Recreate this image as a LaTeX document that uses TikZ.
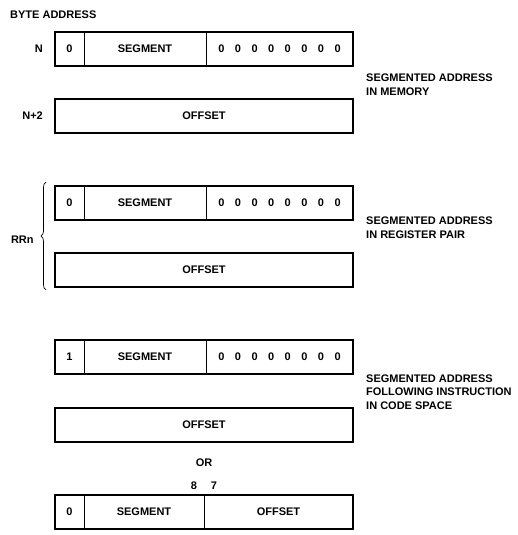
\documentclass[tikz,border=0pt]{standalone}
\usepackage{fontspec}
\setmainfont{Liberation Sans}
\usetikzlibrary{positioning,decorations.pathreplacing}
\newcommand{\zerobits}{0\hspace{10.5pt}0\hspace{10.5pt}0\hspace{10.5pt}0\hspace{10.5pt}0\hspace{10.5pt}0\hspace{10.5pt}0\hspace{10.5pt}0}
\tikzset{
  field/.style={draw, line width=0.7pt, minimum height=34pt, inner sep=0pt, outer sep=0pt},
  frame/.style={line width=1.6pt},
  lbl/.style={inner sep=0pt},
  note/.style={inner sep=0pt, anchor=west, align=left},
  regbrace/.style={decorate, decoration={brace, amplitude=5pt}, line width=0.7pt}
}
\begin{document}
\begin{tikzpicture}[x=1pt, y=-1pt, font=\bfseries\fontsize{11}{13.7}\selectfont]
        \useasboundingbox (0,0) rectangle (518,535);
        \node[lbl, anchor=west] (title) at (10,15) {BYTE ADDRESS};

        \node[field, minimum width=29pt, anchor=north west] (m0) at (55,32) {0};
        \node[field, minimum width=122pt, right=0pt of m0] (mseg) {SEGMENT};
        \node[field, minimum width=147pt, right=0pt of mseg] (mzero) {\zerobits};
        \node[field, frame, minimum width=298pt, below=33pt of m0.south west, anchor=north west] (moff) {OFFSET};
        \node[lbl, left=12pt of m0] (n) {N};
        \node[lbl, left=12pt of moff] (n2) {N+2};
        \node[note] (memnote) at (366,85) {SEGMENTED ADDRESS\\IN MEMORY};

        \node[field, minimum width=29pt, anchor=north west] (r0) at (55,186) {0};
        \node[field, minimum width=122pt, right=0pt of r0] (rseg) {SEGMENT};
        \node[field, minimum width=147pt, right=0pt of rseg] (rzero) {\zerobits};
        \node[field, frame, minimum width=298pt, below=33pt of r0.south west, anchor=north west] (roff) {OFFSET};
        \node[note] (regnote) at (366,228) {SEGMENTED ADDRESS\\IN REGISTER PAIR};

        \node[field, minimum width=29pt, anchor=north west] (c0) at (55,340) {1};
        \node[field, minimum width=122pt, right=0pt of c0] (cseg) {SEGMENT};
        \node[field, minimum width=147pt, right=0pt of cseg] (czero) {\zerobits};
        \node[field, frame, minimum width=298pt, below=34pt of c0.south west, anchor=north west] (coff) {OFFSET};
        \node[note] (codenote) at (366,392) {SEGMENTED ADDRESS\\FOLLOWING INSTRUCTION\\IN CODE SPACE};
        \node[lbl, below=17pt of coff] (or) {OR};

        \node[field, minimum width=29pt, below=53pt of coff.south west, anchor=north west] (d0) {0};
        \node[field, minimum width=120pt, right=0pt of d0] (dseg) {SEGMENT};
        \node[field, minimum width=149pt, right=0pt of dseg] (doff) {OFFSET};
        \node[lbl] (b8) at ([xshift=-10pt, yshift=9pt]dseg.north east) {8};
        \node[lbl] (b7) at ([xshift=10pt, yshift=9pt]dseg.north east) {7};

        \draw[frame] (m0.north west) rectangle (mzero.south east);
        \draw[frame] (r0.north west) rectangle (rzero.south east);
        \draw[frame] (c0.north west) rectangle (czero.south east);
        \draw[frame] (d0.north west) rectangle (doff.south east);
        \draw[regbrace] ([xshift=-9pt, yshift=-3pt]roff.south west) -- node[lbl, left=12pt, yshift=-4pt] (rr) {RRn} ([xshift=-9pt, yshift=4pt]r0.north west);
    \end{tikzpicture}
\end{document}
